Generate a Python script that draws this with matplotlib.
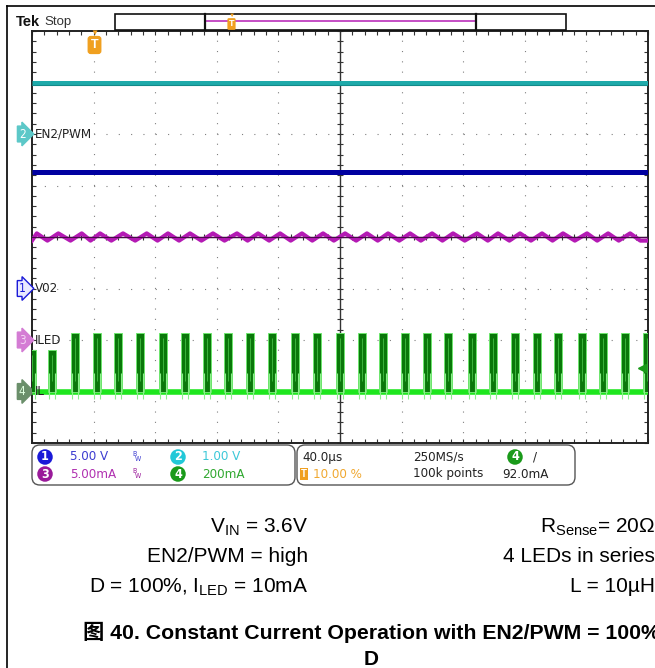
import numpy as np
import matplotlib
matplotlib.use("Agg")
import matplotlib.pyplot as plt
from matplotlib.patches import Rectangle, FancyBboxPatch
from matplotlib.lines import Line2D
import matplotlib.transforms as mtransforms

plt.rcParams['font.family'] = ['Liberation Sans', 'Noto Sans CJK SC', 'DejaVu Sans']
plt.rcParams['mathtext.fontset'] = 'custom'
plt.rcParams['mathtext.rm'] = 'Liberation Sans'

W, H = 655, 668
SCOPE = dict(family='DejaVu Sans', fontstretch='condensed')

# --- scope settings (40 us/div, trigger at 10 %) ---
t_start, t_end = -40, 360
y_lo, y_hi = -4, 4

# trace levels (divisions)
cyan_level = 3.0       # ch2 EN2/PWM
blue_level = 1.26      # ch1 V02
green_base = -3.0      # ch4 IL baseline
trig_level = -2.54     # ch4 trigger 92 mA

# ch4 inductor current pulses (us) and their tops (div)
pulse_t = [-40.0, -27.0, -12.1, 2.2, 15.8, 30.1, 45.1, 59.4, 73.6, 87.3, 101.6, 115.9,
           130.8, 145.1, 160.0, 174.3, 187.9, 202.2, 216.5, 230.1, 245.7, 259.4,
           273.7, 288.0, 301.6, 317.2, 330.8, 345.1, 359.4]
pulse_top = [-2.2, -2.2] + [-1.86] * 27

# ch3 LED current ripple: peaks and valleys (us)
peak_t = [-36.9, -22.9, -7.7, 4.2, 19.1, 34.5, 48.3, 62.6, 77.5, 93.1, 106.8, 121.1,
          135.3, 149.0, 163.3, 177.5, 191.2, 205.5, 219.8, 233.4, 249.0, 262.6,
          276.9, 291.2, 304.8, 320.4, 334.1, 348.4]
valley_t = [-40.0, -30.0, -15.0, -2.0, 11.5, 27.0, 41.5, 55.5, 70.0, 85.0, 100.0, 114.0,
            128.0, 142.0, 156.0, 170.5, 184.5, 198.5, 212.5, 226.5, 241.0, 256.0,
            270.0, 284.0, 298.0, 312.5, 327.0, 341.0, 355.0, 360.0]
peak_v, valley_v = 0.07, -0.07

ch_labels = ['EN2/PWM', 'V02', 'ILED', 'IL']
ch_nums = ['2', '1', '3', '4']
ch_marks = [2.0, -1.0, -2.0, -3.0]


def fx(px):
    return px / W


def fy(py):
    return 1 - py / H


fig = plt.figure(figsize=(W / 100, H / 100), dpi=100)
ax = fig.add_axes([fx(32), fy(443), 616 / W, 412 / H])
ax.set_xlim(t_start, t_end)
ax.set_ylim(y_lo, y_hi)

# graticule
ax.set_xticks(np.arange(t_start, t_end + 1, 40))
ax.set_yticks(np.arange(y_lo, y_hi + 1, 1))
ax.set_xticks(np.arange(t_start, t_end + 1, 8), minor=True)
ax.set_yticks(np.arange(y_lo, y_hi + 0.01, 0.2), minor=True)
ax.tick_params(which='both', direction='in', length=3, top=True, right=True,
               labelbottom=False, labelleft=False, color='#333333', width=0.8)
ax.xaxis.grid(True, which='major', color='#808080', lw=0.8, linestyle=(0, (1, 8.27)))
ax.yaxis.grid(True, which='major', color='#808080', lw=0.8, linestyle=(0, (1, 10.09)))
ax.set_axisbelow(True)
for s in ax.spines.values():
    s.set_color('#222222')
    s.set_linewidth(1.4)

ax.axvline(160, color='#333333', lw=1.0, zorder=1)
ax.axhline(0, color='#333333', lw=1.0, zorder=1)
xm = np.arange(t_start, t_end + 1, 8)
ym = np.arange(y_lo, y_hi + 0.01, 0.2)
ax.plot(xm, np.zeros_like(xm), ls='none', marker='|', ms=5, color='#333333', mew=0.8, zorder=1)
ax.plot(np.full_like(ym, 160), ym, ls='none', marker='_', ms=5, color='#333333', mew=0.8, zorder=1)

# ch2 cyan
ax.hlines(cyan_level, t_start, t_end, color='#1eaaaa', lw=3.6, zorder=3)
ax.hlines(cyan_level - 0.04, t_start, t_end, color='#148a8a', lw=0.8, zorder=3)
# ch1 blue
ax.hlines(blue_level, t_start, t_end, color='#0000a0', lw=3.6, zorder=3)

# ch3 magenta ripple
rip = sorted([(t, peak_v) for t in peak_t] + [(t, valley_v) for t in valley_t])
ax.plot([r[0] for r in rip], [r[1] for r in rip], color='#b41ab4', lw=3.0,
        solid_joinstyle='round', zorder=3)
ax.axhline(0, color='#4a0a4a', lw=0.8, zorder=3)

# ch4 green
ax.hlines(green_base, t_start, t_end, color='#1ee61e', lw=4.0, zorder=3)
heights = [top - green_base for top in pulse_top]
ax.bar(pulse_t, heights, bottom=green_base, width=5.0, color='#0a780a',
       edgecolor='#6ee66e', lw=0.7, zorder=4)
ax.vlines([t - 2.0 for t in pulse_t] + [t + 2.0 for t in pulse_t],
          green_base - 0.15, green_base + 0.35, color='#8af08a', lw=0.8, zorder=4)
ax.vlines(pulse_t, green_base + 0.2, [top - 0.1 for top in pulse_top],
          color='#3cb43c', lw=0.7, zorder=4)

# trigger level marker (right edge)
tr = mtransforms.blended_transform_factory(ax.transAxes, ax.transData)
ax.plot([0.99], [trig_level], marker='<', ms=6, color='#1a9a1a', transform=tr,
        zorder=5, clip_on=False)

# channel markers and labels
badge_fc = {'1': '#e8e8ff', '2': '#5cc8c8', '3': '#d47cd4', '4': '#6b8f6b'}
badge_ec = {'1': '#1a1ad8', '2': '#5cc8c8', '3': '#d47cd4', '4': '#6b8f6b'}
badge_tc = {'1': '#1a1ad8', '2': 'white', '3': '#f4d4f4', '4': '#e0ffe0'}
for lab, num, yv in zip(ch_labels, ch_nums, ch_marks):
    ax.text(-0.016, yv, num, transform=tr, ha='center', va='center', fontsize=8.5,
            color=badge_tc[num], clip_on=False, **SCOPE,
            bbox=dict(boxstyle='rarrow,pad=0.12', fc=badge_fc[num], ec=badge_ec[num], lw=1))
    ax.text(0.004, yv, lab, transform=tr, ha='left', va='center', fontsize=9.5,
            color='#222222', zorder=6, **SCOPE)

# trigger position marker
fig.text(fx(94.5), fy(45), 'T', ha='center', va='center', fontsize=9, color='white',
         weight='bold', bbox=dict(boxstyle='round,pad=0.25', fc='#f0a020', ec='none'))
fig.text(fx(94.5), fy(33), '\u25bc', ha='center', va='center', fontsize=6, color='#f0a020')

# header
fig.text(fx(16), fy(22), 'Tek', ha='left', va='center', fontsize=10.5, weight='bold',
         color='#111111')
fig.text(fx(44), fy(22), 'Stop', ha='left', va='center', fontsize=9.5, color='#333333')
fig.add_artist(Rectangle((fx(115), fy(30)), (566 - 115) / W, 16 / H, fill=False,
                         ec='#111111', lw=1.2, transform=fig.transFigure))
fig.add_artist(Line2D([fx(205), fx(476)], [fy(21), fy(21)], color='#c040c0', lw=1.3))
for xb in (205, 476):
    fig.add_artist(Line2D([fx(xb), fx(xb)], [fy(14), fy(30)], color='#111111', lw=1.6))
fig.text(fx(231.5), fy(24), 'T', ha='center', va='center', fontsize=6.5, color='white',
         weight='bold', bbox=dict(boxstyle='round,pad=0.15', fc='#f0a020', ec='none'))
fig.text(fx(231.5), fy(15), '\u25bc', ha='center', va='center', fontsize=4.5, color='#f0a020')

# outer page border
fig.add_artist(Line2D([fx(7), fx(7)], [fy(6), 0], color='black', lw=1.2))
fig.add_artist(Line2D([fx(7), 1], [fy(6), fy(6)], color='black', lw=1.2))

# bottom info panels
for x0, x1 in ((32, 295), (297, 575)):
    fig.add_artist(FancyBboxPatch((fx(x0), fy(485)), (x1 - x0) / W, 40 / H,
                                  boxstyle='round,pad=0,rounding_size=0.012',
                                  fill=False, ec='#555555', lw=1.0,
                                  transform=fig.transFigure))


def badge(x, y, s, fc):
    fig.text(fx(x), fy(y), s, ha='center', va='center', fontsize=9, color='white',
             weight='bold', **SCOPE,
             bbox=dict(boxstyle='circle,pad=0.1', fc=fc, ec='none'))


def info(x, y, s, c, size=9.5):
    fig.text(fx(x), fy(y), s, ha='left', va='center', fontsize=size, color=c, **SCOPE)


r1, r2 = 457, 474
badge(45, r1, '1', '#1a1ad8')
info(70, r1, '5.00 V', '#3c3cd0')
info(132, r1 - 3, 'B', '#3c3cd0', 5)
info(135, r1 + 2, 'W', '#3c3cd0', 5)
badge(178, r1, '2', '#22c8d8')
info(202, r1, '1.00 V', '#3cc8d8')
badge(45, r2, '3', '#9a1a9a')
info(70, r2, '5.00mA', '#b030b0')
info(132, r2 - 3, 'B', '#9a1a9a', 5)
info(135, r2 + 2, 'W', '#9a1a9a', 5)
badge(178, r2, '4', '#1a9a1a')
info(202, r2, '200mA', '#30a830')

info(302, r1, '40.0\u00b5s', '#222222')
info(413, r1, '250MS/s', '#222222')
badge(515, r1, '4', '#1a9a1a')
info(533, r1, '/', '#222222')
fig.text(fx(304), fy(r2), 'T', ha='center', va='center', fontsize=7, color='white',
         weight='bold', bbox=dict(boxstyle='square,pad=0.12', fc='#f0a020', ec='none'))
info(313, r2, '10.00 %', '#f0a830')
info(413, r2, '100k points', '#222222')
info(502, r2, '92.0mA', '#222222')

# test conditions
fs = 15
fig.text(fx(308), fy(532), r'V$_{\mathregular{IN}}$ = 3.6V', ha='right', va='baseline', fontsize=fs)
fig.text(fx(308), fy(562), 'EN2/PWM = high', ha='right', va='baseline', fontsize=fs)
fig.text(fx(308), fy(592), r'D = 100%, I$_{\mathregular{LED}}$ = 10mA', ha='right', va='baseline', fontsize=fs)
fig.text(fx(655), fy(532), 'R$_{\\mathregular{Sense}}$= 20Ω', ha='right', va='baseline', fontsize=fs)
fig.text(fx(655), fy(562), '4 LEDs in series', ha='right', va='baseline', fontsize=fs)
fig.text(fx(655), fy(592), 'L = 10\u00b5H', ha='right', va='baseline', fontsize=fs)

fig.text(fx(83), fy(639), '图 40. Constant Current Operation with EN2/PWM = 100%',
         ha='left', va='baseline', fontsize=15.3, weight='bold')
fig.text(fx(371), fy(665), 'D', ha='center', va='baseline', fontsize=fs, weight='bold')

fig.savefig('out.png', dpi=100, facecolor='white')
